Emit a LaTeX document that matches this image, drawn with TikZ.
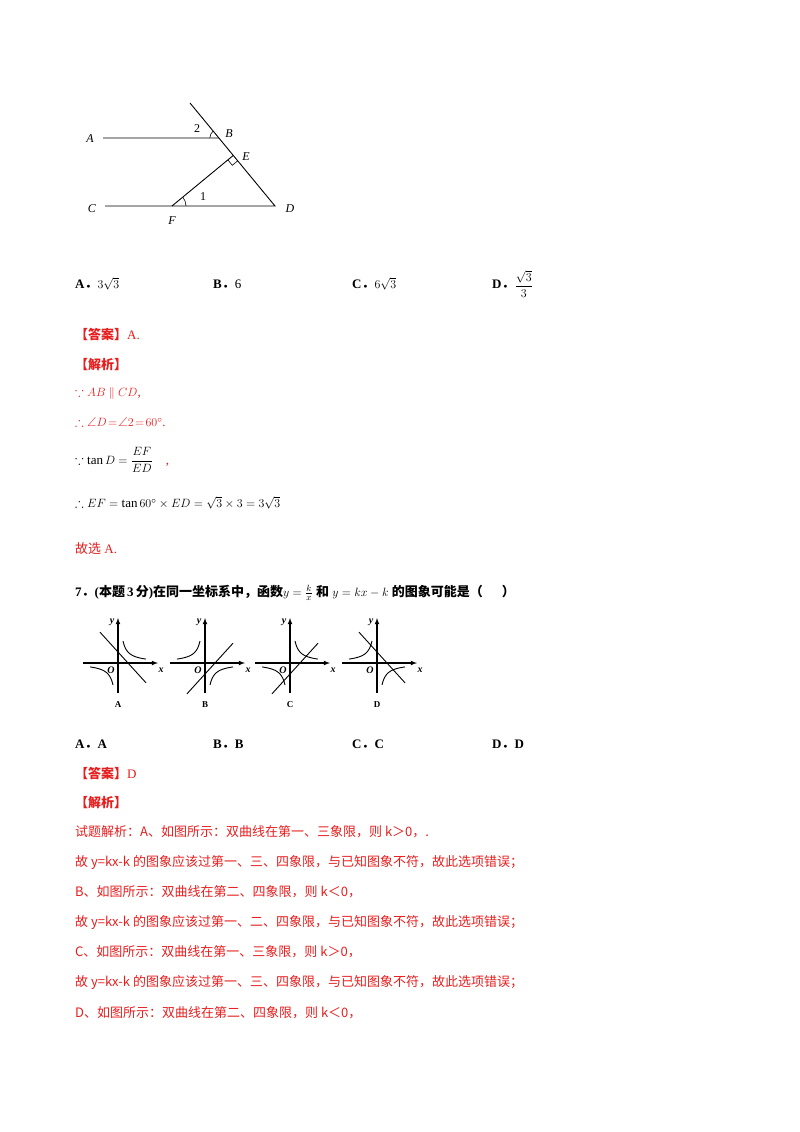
\documentclass[tikz,border=0pt]{standalone}
\usepackage{amsmath,amssymb}
\usepackage{fontspec}
\setmainfont{Liberation Serif}
\newfontfamily\cjk{Noto Sans CJK SC}
\usetikzlibrary{calc,angles}
\definecolor{rd}{RGB}{230,30,30}
\newcommand{\fd}{{\cjk\bfseries ．}}
\begin{document}
\begin{tikzpicture}[x=1pt,y=-1pt,
  txt/.style={anchor=west,inner sep=0,font=\fontsize{13}{15}\selectfont},
  rtxt/.style={txt,text=rd},
  lbl/.style={font=\fontsize{12}{13}\itshape\selectfont,inner sep=0},
  gl/.style={line width=0.9pt},
  ax/.style={line width=1.1pt,-latex}]
\useasboundingbox (0,0) rectangle (800,1132);
% geometry figure
\coordinate (T) at (190,103);
\coordinate (D) at (275,206);
\coordinate (Ap) at (103,138);
\coordinate (Cp) at (105,206);
\coordinate (F) at (172,206);
\coordinate (B) at ($(T)!{(138-103)/(206-103)}!(D)$);
\coordinate (E) at ($(T)!(F)!(D)$);
\draw[gl] (T) -- (D) -- (Cp);
\draw[gl] (Ap) -- (B);
\draw[gl] (F) -- (E);
\coordinate (P1) at ($(E)!7pt!(F)$);
\coordinate (P3) at ($(E)!7pt!(D)$);
\draw[line width=0.6pt] (P1) -- ($(P1)+(P3)-(E)$) -- (P3);
\pic[draw,line width=0.6pt,angle radius=9pt] {angle=T--B--Ap};
\pic[draw,line width=0.6pt,angle radius=14pt] {angle=D--F--E};
\node[lbl] (lA) at (90,139) {A};
\node[lbl] (lB) at (229,134) {B};
\node[lbl] (lC) at (92,209) {C};
\node[lbl] (lD) at (290,209) {D};
\node[lbl] (lF) at (172,221) {F};
\node[lbl] (lE) at (246,157) {E};
\node[lbl,font=\fontsize{12}{13}\selectfont] (l2) at (197,129) {2};
\node[lbl,font=\fontsize{12}{13}\selectfont] (l1) at (203,197) {1};
% choices
\node[txt] (ca) at (75,284) {\textbf{A}\fd$3\sqrt{3}$};
\node[txt] (cb) at (213,284) {\textbf{B}\fd 6};
\node[txt] (cc) at (352,284) {\textbf{C}\fd$6\sqrt{3}$};
\node[txt] (cd) at (492,284) {\textbf{D}\fd\raisebox{-1pt}{$\dfrac{\sqrt{3}}{3}$}};
% solution
\node[rtxt] (s1) at (75,334) {\cjk\bfseries 【答案】\rmfamily\mdseries A.};
\node[rtxt] (s2) at (75,365) {\cjk\bfseries 【解析】};
\node[rtxt] (s3) at (75,393) {$\because AB\parallel CD$,};
\node[rtxt] (s4) at (75,422) {$\therefore\angle D\!=\!\angle2\!=\!60^\circ$.};
\node[txt] (s5) at (75,460) {$\because \tan D=\dfrac{EF}{ED}$\quad\textcolor{rd}{,}};
\node[txt] (s6) at (75,503) {$\therefore EF=\tan 60^\circ\times ED=\sqrt3\times3=3\sqrt3$};
\node[rtxt] (s7) at (75,549) {{\cjk 故选} A.};
\node[txt] (q7) at (75,593) {\textbf{7}\fd\textbf{(}{\cjk\bfseries 本题}\textbf{\,3\,}{\cjk\bfseries 分}\textbf{)}{\cjk\bfseries 在同一坐标系中，函数}$y=\frac{k}{x}$ {\cjk\bfseries 和} $y=kx-k$ {\cjk\bfseries 的图象可能是（\quad\ \ ）}};
% small graphs
\foreach \ox/\name/\s/\m in {118/A/1/-1, 205/B/-1/1, 290/C/1/1, 377/D/-1/-1}{
  \begin{scope}[shift={(\ox,663)}]
    \draw[ax] (-35,0) -- (40,0);
    \draw[ax] (0,30) -- (0,-45);
    \node[lbl,font=\fontsize{10}{10}\bfseries\itshape\selectfont] at (-7,7) {O};
    \node[lbl,font=\fontsize{10}{10}\bfseries\itshape\selectfont] at (43,7) {x};
    \node[lbl,font=\fontsize{10}{10}\bfseries\itshape\selectfont] at (-6,-41) {y};
    \node[lbl,font=\fontsize{9}{10}\bfseries\selectfont] at (0,42) {\name};
    \draw[gl,domain=5:28,samples=30] plot ({\x},{-\s*110/\x});
    \draw[gl,domain=-28:-5,samples=30] plot ({\x},{-\s*110/\x});
    \draw[gl] (-18,{-\m*(-18-10)*1.1}) -- (28,{-\m*(28-10)*1.1});
  \end{scope}}
\node[txt] (a1) at (75,744) {\textbf{A}\fd\textbf{A}};
\node[txt] (a2) at (213,744) {\textbf{B}\fd\textbf{B}};
\node[txt] (a3) at (352,744) {\textbf{C}\fd\textbf{C}};
\node[txt] (a4) at (492,744) {\textbf{D}\fd\textbf{D}};
\node[rtxt] (t1) at (75,773) {\cjk\bfseries 【答案】\rmfamily\mdseries D};
\node[rtxt] (t2) at (75,803) {\cjk\bfseries 【解析】};
\begin{scope}[every node/.style={rtxt,font=\cjk\fontsize{13}{15}\selectfont}]
\node (r1) at (75,832) {试题解析：A、如图所示：双曲线在第一、三象限，则 k＞0，.};
\node (r2) at (75,862) {故 y=kx-k 的图象应该过第一、三、四象限，与已知图象不符，故此选项错误；};
\node (r3) at (75,892) {B、如图所示：双曲线在第二、四象限，则 k＜0，};
\node (r4) at (75,922) {故 y=kx-k 的图象应该过第一、二、四象限，与已知图象不符，故此选项错误；};
\node (r5) at (75,952) {C、如图所示：双曲线在第一、三象限，则 k＞0，};
\node (r6) at (75,982) {故 y=kx-k 的图象应该过第一、三、四象限，与已知图象不符，故此选项错误；};
\node (r7) at (75,1013) {D、如图所示：双曲线在第二、四象限，则 k＜0，};
\end{scope}
\end{tikzpicture}
\end{document}
